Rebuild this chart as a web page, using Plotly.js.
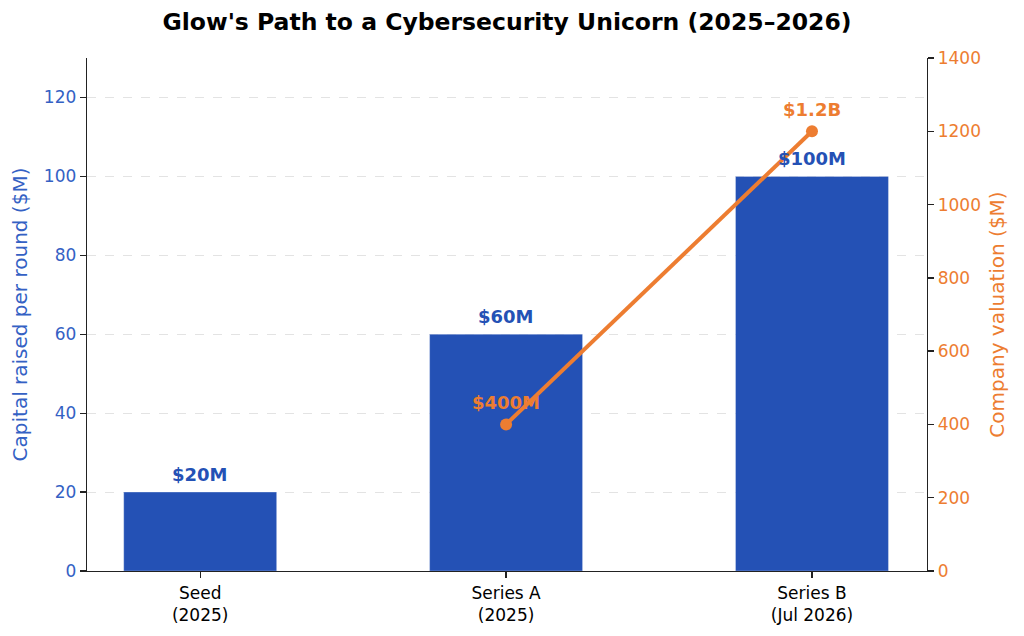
<!DOCTYPE html>
<html>
<head>
<meta charset="utf-8">
<script src="https://cdn.plot.ly/plotly-3.0.1.min.js"></script>
<style>html,body{margin:0;padding:0;background:#fff;}#chart{width:1024px;height:636px;}</style>
</head>
<body>
<div id="chart"></div>
<script>
const rounds = ["Seed<br>(2025)", "Series A<br>(2025)", "Series B<br>(Jul 2026)"];
const capitalRaised = [20, 60, 100];
const capitalLabels = ["$20M", "$60M", "$100M"];
const valuationRounds = ["Series A<br>(2025)", "Series B<br>(Jul 2026)"];
const valuation = [400, 1200];
const valuationLabels = ["$400M", "$1.2B"];

const BLUE = "#2451b5";
const BLUE_TXT = "#3461c4";
const ORANGE = "#ed7d31";
const FONT = "DejaVu Sans, sans-serif";

const xIndex = r => rounds.indexOf(r);

const traces = [
  {
    type: "bar",
    x: rounds.map((r, i) => i),
    y: capitalRaised,
    width: 0.5,
    marker: {color: BLUE, line: {color: "rgba(255,255,255,0.6)", width: 0.5}},
    yaxis: "y",
    hoverinfo: "skip"
  },
  {
    type: "scatter",
    mode: "lines+markers",
    x: valuationRounds.map(xIndex),
    y: valuation,
    yaxis: "y2",
    line: {color: ORANGE, width: 4},
    marker: {color: ORANGE, size: 12},
    hoverinfo: "skip"
  }
];

const annotations = [];
capitalRaised.forEach((v, i) => {
  annotations.push({
    x: i, y: v, xref: "x", yref: "y", text: capitalLabels[i],
    showarrow: false, yanchor: "bottom", yshift: 5,
    font: {family: FONT, size: 18, color: BLUE, weight: "bold"}
  });
});
valuation.forEach((v, i) => {
  annotations.push({
    x: xIndex(valuationRounds[i]), y: v, xref: "x", yref: "y2", text: valuationLabels[i],
    showarrow: false, yanchor: "bottom", yshift: 9,
    font: {family: FONT, size: 18, color: ORANGE, weight: "bold"}
  });
});

const layout = {
  width: 1024, height: 636,
  margin: {l: 87, r: 97, t: 58, b: 65},
  paper_bgcolor: "#fff", plot_bgcolor: "#fff",
  showlegend: false,
  font: {family: FONT, size: 17, color: "#000"},
  title: {
    text: "<b>Glow's Path to a Cybersecurity Unicorn (2025–2026)</b>",
    x: 0.5, xref: "paper", y: 0.965, yref: "container", yanchor: "middle",
    font: {family: FONT, size: 23.5, color: "#000"}
  },
  xaxis: {
    range: [-0.37, 2.376],
    tickmode: "array", tickvals: [0, 1, 2], ticktext: rounds,
    ticks: "outside", ticklen: 6, tickcolor: "#222", tickwidth: 1.3,
    showline: true, linecolor: "#222", linewidth: 1.3,
    showgrid: false, zeroline: false,
    tickfont: {family: FONT, size: 17, color: "#000"}
  },
  yaxis: {
    range: [0, 130],
    tickvals: [0, 20, 40, 60, 80, 100, 120],
    ticks: "outside", ticklen: 6, tickcolor: "#222", tickwidth: 1.3,
    showline: true, linecolor: "#222", linewidth: 1.3,
    showgrid: true, gridcolor: "#e3e3e3", griddash: "dash", gridwidth: 1,
    zeroline: false,
    tickfont: {family: FONT, size: 17, color: BLUE_TXT},
    title: {text: "Capital raised per round ($M)", font: {family: FONT, size: 20, color: BLUE_TXT}, standoff: 10}
  },
  yaxis2: {
    range: [0, 1400],
    overlaying: "y", side: "right",
    tickvals: [0, 200, 400, 600, 800, 1000, 1200, 1400],
    ticks: "outside", ticklen: 6, tickcolor: "#222", tickwidth: 1.3,
    showline: true, linecolor: "#222", linewidth: 1.3,
    showgrid: false, zeroline: false,
    tickfont: {family: FONT, size: 17, color: ORANGE},
    title: {text: "Company valuation ($M)", font: {family: FONT, size: 20, color: ORANGE}, standoff: 10}
  },
  annotations: annotations
};

Plotly.newPlot("chart", traces, layout, {staticPlot: true, displayModeBar: false});
</script>
</body>
</html>
